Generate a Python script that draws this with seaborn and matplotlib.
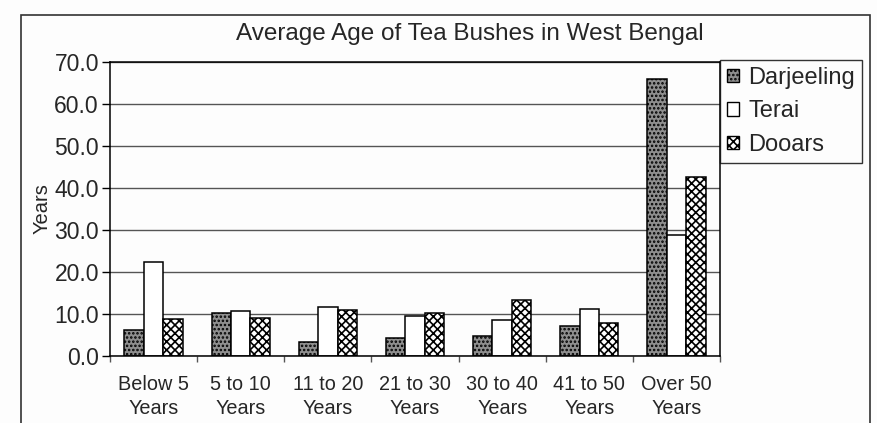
import matplotlib
matplotlib.use("Agg")
import matplotlib.pyplot as plt
import seaborn as sns
import pandas as pd
from matplotlib.patches import Rectangle, Patch
from matplotlib.ticker import FixedLocator, FuncFormatter

# Age groups and average age of tea bushes (years) per region
categories = ["Below 5\nYears", "5 to 10\nYears", "11 to 20\nYears", "21 to 30\nYears",
              "30 to 40\nYears", "41 to 50\nYears", "Over 50\nYears"]
darjeeling = [6.3, 10.2, 3.3, 4.4, 4.8, 7.2, 65.9]
terai = [22.4, 10.8, 11.7, 9.5, 8.6, 11.3, 28.8]
dooars = [8.9, 9.1, 10.9, 10.2, 13.3, 7.8, 42.7]
regions = ["Darjeeling", "Terai", "Dooars"]

df = pd.DataFrame({
    "group": categories * 3,
    "region": sum([[r] * len(categories) for r in regions], []),
    "years": darjeeling + terai + dooars,
})

sns.set_style("white")
plt.rcParams["font.family"] = ["Liberation Sans", "DejaVu Sans"]
plt.rcParams["hatch.linewidth"] = 1.2

W, H = 877, 423
fig = plt.figure(figsize=(W / 100, H / 100), dpi=100, facecolor="#fdfdfd")
ax = fig.add_axes([110 / W, 1 - 356 / H, (720 - 110) / W, (356 - 62) / H])
ax.set_facecolor("#fdfdfd")

ax.yaxis.grid(True, color="#555555", linewidth=1.0)
ax.set_axisbelow(True)

faces = ["#8f8f8f", "#ffffff", "#ffffff"]
hatches = ["....", "", "xxxx"]

sns.barplot(data=df, x="group", y="years", hue="region", hue_order=regions,
            palette=faces, width=0.67, gap=0,
            edgecolor="black", linewidth=1.1, ax=ax, legend=False)

for cont, hatch in zip(ax.containers, hatches):
    for bar in cont:
        bar.set_hatch(hatch)
        bar.set_edgecolor("black")

ax.set_ylim(0, 70)
ax.set_xlim(-0.5, len(categories) - 0.5)
ax.set_yticks(range(0, 71, 10))
ax.yaxis.set_major_formatter(FuncFormatter(lambda v, p: f"{v:.1f}"))
ax.tick_params(axis="y", direction="out", length=6, width=1, color="black",
               labelsize=16.5, pad=2, left=True)
ax.tick_params(axis="x", which="major", length=0, labelsize=14.3, pad=14)
ax.xaxis.set_minor_locator(FixedLocator([i + 0.5 for i in range(-1, len(categories))]))
ax.tick_params(axis="x", which="minor", direction="out", length=4, width=1,
               color="#555555", bottom=True)
for lbl in ax.get_xticklabels():
    lbl.set_linespacing(1.3)

ax.set_xlabel("")
ax.set_ylabel("Years", fontsize=14.5, labelpad=2)

for s in ax.spines.values():
    s.set_visible(True)
    s.set_color("black")
    s.set_linewidth(1.1)

# Legend at the right of the plot area, swatches styled like the bars
handles = [Patch(facecolor=f, edgecolor="black", hatch=h, linewidth=1.0)
           for f, h in zip(faces, hatches)]
leg = fig.legend(handles, regions, loc="upper left",
                 bbox_to_anchor=(720 / W, 1 - 60 / H), bbox_transform=fig.transFigure,
                 frameon=True, fancybox=False, edgecolor="black", fontsize=17,
                 handlelength=0.5, handleheight=0.5, handletextpad=0.4,
                 labelspacing=0.48, borderpad=0.3, borderaxespad=0)
leg.get_frame().set_linewidth(1.0)
leg.get_frame().set_facecolor("#fdfdfd")

fig.text(470 / W, 1 - 34 / H, "Average Age of Tea Bushes in West Bengal",
         ha="center", va="center", fontsize=17.5)

# Outer chart frame
fig.patches.append(Rectangle((21 / W, -0.2), (870 - 21) / W, 1.2 - 15 / H,
                             transform=fig.transFigure, fill=False,
                             edgecolor="#333333", linewidth=1.2, clip_on=False))

fig.savefig("out.png", dpi=100, facecolor=fig.get_facecolor())
